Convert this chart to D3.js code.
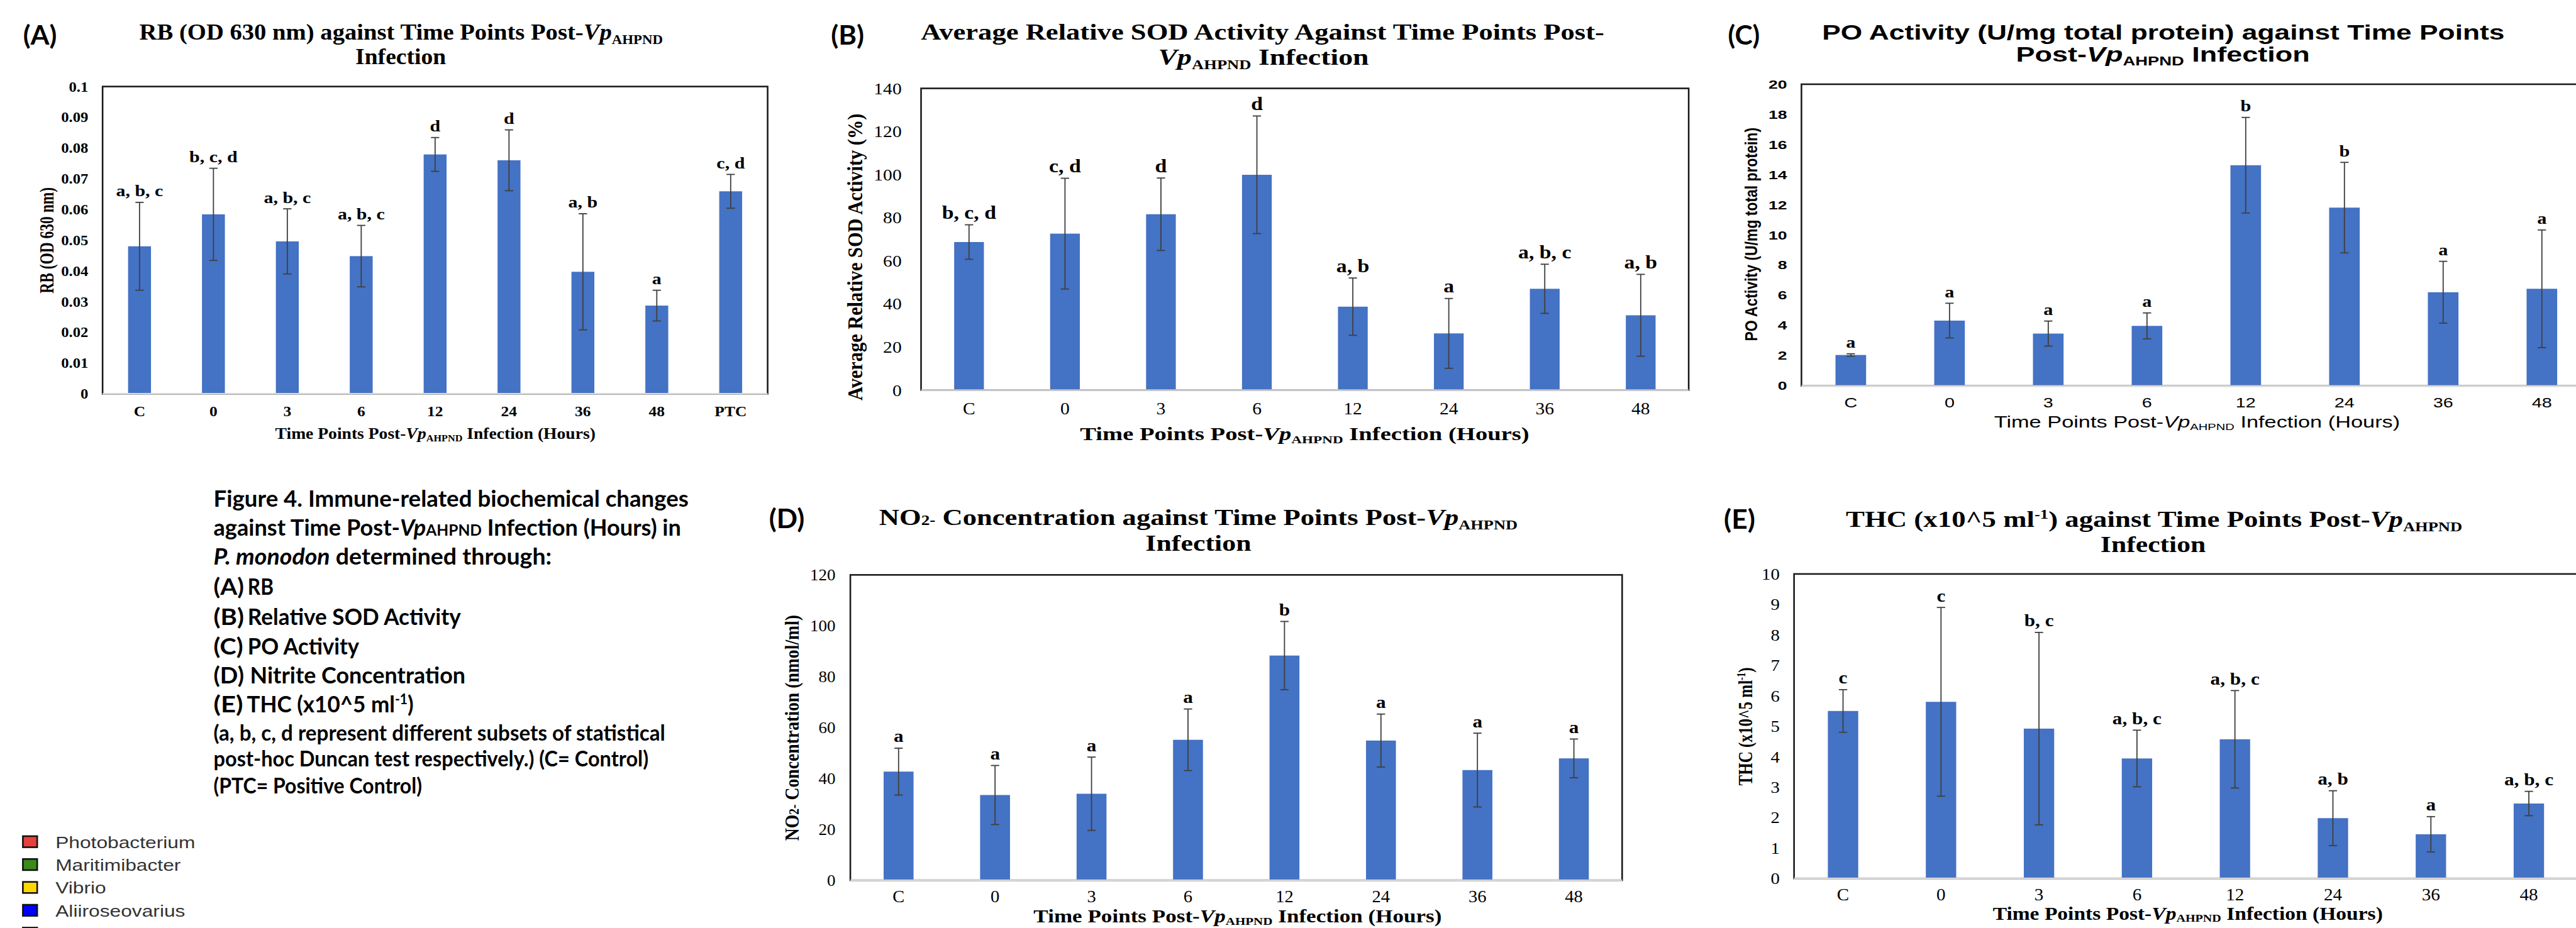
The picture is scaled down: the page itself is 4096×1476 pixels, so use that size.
<!DOCTYPE html>
<html>
<head>
<meta charset="utf-8">
<script src="https://cdn.jsdelivr.net/npm/d3@7"></script>
<style>
  body { margin: 0; background: #fff; overflow: hidden; }
  text { white-space: pre; }
</style>
</head>
<body>
<script>
// categories
var catsA = ["C", "0", "3", "6", "12", "24", "36", "48", "PTC"];
var cats = ["C", "0", "3", "6", "12", "24", "36", "48"];

// (A) RB
var rbMean = [0.0480, 0.0584, 0.0496, 0.0448, 0.0779, 0.0760, 0.0397, 0.0287, 0.0659];
var rbSd = [0.0143, 0.0150, 0.0106, 0.0100, 0.0055, 0.0099, 0.0189, 0.0050, 0.0055];
var rbGroup = ["a, b, c", "b, c, d", "a, b, c", "a, b, c", "d", "d", "a, b", "a", "c, d"];
var rbTicks = [0, 0.01, 0.02, 0.03, 0.04, 0.05, 0.06, 0.07, 0.08, 0.09, 0.1];

// (B) SOD
var sodMean = [68.7, 72.6, 81.6, 99.9, 38.7, 26.3, 47.0, 34.7];
var sodSd = [8.0, 25.7, 16.8, 27.3, 13.3, 16.2, 11.4, 19.0];
var sodGroup = ["b, c, d", "c, d", "d", "d", "a, b", "a", "a, b, c", "a, b"];
var sodTicks = [0, 20, 40, 60, 80, 100, 120, 140];

// (C) PO
var poMean = [2.05, 4.33, 3.47, 3.98, 14.63, 11.82, 6.21, 6.44];
var poSd = [0.08, 1.15, 0.83, 0.86, 3.17, 3.0, 2.05, 3.9];
var poGroup = ["a", "a", "a", "a", "b", "b", "a", "a"];
var poTicks = [0, 2, 4, 6, 8, 10, 12, 14, 16, 18, 20];

// (D) NO2-
var no2Mean = [42.7, 33.5, 34.0, 55.2, 88.3, 54.9, 43.3, 47.9];
var no2Sd = [9.2, 11.6, 14.4, 12.1, 13.4, 10.4, 14.5, 7.6];
var no2Group = ["a", "a", "a", "a", "b", "a", "a", "a"];
var no2Ticks = [0, 20, 40, 60, 80, 100, 120];

// (E) THC
var thcMean = [5.50, 5.80, 4.92, 3.94, 4.57, 1.98, 1.45, 2.46];
var thcSd = [0.70, 3.10, 3.16, 0.93, 1.60, 0.90, 0.58, 0.40];
var thcGroup = ["c", "c", "b, c", "a, b, c", "a, b, c", "a, b", "a", "a, b, c"];
var thcTicks = [0, 1, 2, 3, 4, 5, 6, 7, 8, 9, 10];

// legend (partly visible)
var legendNames = ["Photobacterium", "Maritimibacter", "Vibrio", "Aliiroseovarius"];
var legendColors = ["#e8403e", "#3a8a1c", "#ffd700", "#0000ff", "#8c8c8c"];

var SERIF = "'Liberation Serif','Times New Roman',serif";
var SANS = "'Liberation Sans',Arial,sans-serif";
var CAL = "Lato,'Open Sans',sans-serif";
var BAR = "#4472C4";

var W = 5574, H = 2008;
var svg = d3.select("body").append("svg")
  .attr("width", 4096)
  .attr("height", 1476)
  .attr("viewBox", `0 0 ${W} ${H}`);

svg.append("rect").attr("width", W).attr("height", H).attr("fill", "#fff");

// text with optional tspans, stretched horizontally to a target width
function addText(parent, x, y, parts, o) {
  var g = parent.append("g");
  var t = g.append("text")
    .attr("text-anchor", o.anchor || "middle")
    .attr("dy", o.dy || null)
    .style("font-family", o.font || SERIF)
    .style("font-weight", o.weight || "bold")
    .style("font-size", o.size + "px")
    .attr("fill", o.fill || "#000");
  parts.forEach(function(p) {
    var s = t.append("tspan").text(p.t);
    if (p.it) s.style("font-style", "italic");
    if (p.size) s.style("font-size", p.size + "px");
    if (p.dy) s.attr("dy", p.dy);
  });
  var k = o.k || 1;
  if (o.width) k = o.width / t.node().getBBox().width;
  g.attr("transform", `translate(${x},${y})` + (o.rot ? ` rotate(${o.rot})` : "") + ` scale(${k},${o.ky || 1})`);
  return g;
}

function drawPanel(o) {
  var x = d3.scaleBand().domain(o.cats).range([o.left, o.right])
    .paddingInner(0.69).paddingOuter(0.345);
  var y = d3.scaleLinear().domain([o.ticks[0], o.ticks[o.ticks.length - 1]])
    .range([o.bottom, o.top]);
  var g = svg.append("g");
  var rows = o.cats.map(function(c, i) {
    return { cat: c, mean: o.mean[i], sd: o.sd[i], grp: o.grp[i] };
  });

  g.selectAll("rect.bar")
    .data(rows)
    .enter()
    .append("rect")
    .attr("class", "bar")
    .attr("x", d => x(d.cat))
    .attr("y", d => y(d.mean))
    .attr("width", x.bandwidth())
    .attr("height", d => o.bottom - y(d.mean))
    .attr("fill", BAR);

  // plot frame
  g.append("rect")
    .attr("x", o.left).attr("y", o.top)
    .attr("width", o.right - o.left).attr("height", o.bottom - o.top)
    .attr("fill", "none").attr("stroke", "#1a1a1a").attr("stroke-width", 3.5);
  g.append("line")
    .attr("x1", o.left).attr("x2", o.right)
    .attr("y1", o.bottom).attr("y2", o.bottom)
    .attr("stroke", "#d9d9d9").attr("stroke-width", 3.5);

  // error bars
  var cx = d => x(d.cat) + x.bandwidth() / 2;
  var eb = g.selectAll("g.err").data(rows).enter().append("g")
    .attr("stroke", "#404040").attr("stroke-width", 2.5);
  eb.append("line").attr("x1", cx).attr("x2", cx)
    .attr("y1", d => y(d.mean + d.sd)).attr("y2", d => y(d.mean - d.sd));
  eb.append("line").attr("x1", d => cx(d) - 9).attr("x2", d => cx(d) + 9)
    .attr("y1", d => y(d.mean + d.sd)).attr("y2", d => y(d.mean + d.sd));
  eb.append("line").attr("x1", d => cx(d) - 9).attr("x2", d => cx(d) + 9)
    .attr("y1", d => y(d.mean - d.sd)).attr("y2", d => y(d.mean - d.sd));

  // group letters
  g.selectAll("text.grp")
    .data(rows)
    .enter()
    .append("text")
    .attr("class", "grp")
    .attr("text-anchor", "middle")
    .attr("transform", d => `translate(${cx(d)},${y(d.mean + d.sd) - 13}) scale(${o.letterK},1)`)
    .style("font-family", SERIF).style("font-weight", "bold")
    .style("font-size", o.letterSize + "px")
    .text(d => d.grp);

  // y axis
  var ya = g.append("g")
    .attr("transform", `translate(${o.yTickX},0)`)
    .call(d3.axisLeft(y).tickValues(o.ticks).tickSize(0).tickPadding(0).tickFormat(o.fmt));
  ya.select(".domain").remove();
  ya.selectAll("text")
    .attr("x", 0).attr("dy", "0.34em")
    .attr("text-anchor", "end")
    .attr("transform", `scale(${o.tickK},1)`)
    .attr("fill", "#000")
    .style("font-family", o.tickFont).style("font-weight", o.tickWeight)
    .style("font-size", o.tickSize + "px");

  // x axis
  var xa = g.append("g")
    .attr("transform", `translate(0,${o.xTickY})`)
    .call(d3.axisBottom(x).tickSize(0).tickPadding(0));
  xa.select(".domain").remove();
  xa.selectAll("text")
    .attr("y", 0).attr("dy", 0)
    .attr("transform", `scale(${o.xTickK},1)`)
    .attr("fill", "#000")
    .style("font-family", o.xTickFont).style("font-weight", o.xTickWeight)
    .style("font-size", o.xTickSize + "px");
}

// ---------- (A) ----------
drawPanel({
  cats: catsA, mean: rbMean, sd: rbSd, grp: rbGroup, ticks: rbTicks,
  fmt: d => String(+d.toFixed(2)),
  left: 222, right: 1661, top: 187, bottom: 852,
  yTickX: 191, tickFont: SERIF, tickWeight: "bold", tickSize: 30, tickK: 1.12,
  xTickY: 900, xTickFont: SERIF, xTickWeight: "bold", xTickSize: 31, xTickK: 1.12,
  letterSize: 34, letterK: 1.2
});
addText(svg, 50, 96, [{t: "(A)"}], {font: CAL, size: 58, anchor: "start", width: 73});
addText(svg, 868, 86, [{t: "RB (OD 630 nm) against Time Points Post-"}, {t: "Vp", it: true}, {t: "AHPND", size: 29, dy: 9}], {size: 49, width: 1133});
addText(svg, 867, 138, [{t: "Infection"}], {size: 49, width: 196});
addText(svg, 942, 949, [{t: "Time Points Post-"}, {t: "Vp", it: true}, {t: "AHPND", size: 20, dy: 6}, {t: " Infection (Hours)", dy: -6}], {size: 34, width: 693});
addText(svg, 101, 520, [{t: "RB (OD 630 nm)"}], {size: 32, width: 230, rot: -90, dy: "0.35em", ky: 1.3});

// ---------- (B) ----------
drawPanel({
  cats: cats, mean: sodMean, sd: sodSd, grp: sodGroup, ticks: sodTicks,
  fmt: d => String(d),
  left: 1993, right: 3654, top: 191, bottom: 844,
  yTickX: 1951, tickFont: SERIF, tickWeight: "normal", tickSize: 35, tickK: 1.15,
  xTickY: 897, xTickFont: SERIF, xTickWeight: "normal", xTickSize: 36, xTickK: 1.12,
  letterSize: 40, letterK: 1.15
});
addText(svg, 1798, 96, [{t: "(B)"}], {font: CAL, size: 58, anchor: "start", width: 72});
addText(svg, 2732, 86, [{t: "Average Relative SOD Activity Against Time Points Post-"}], {size: 50, width: 1479});
addText(svg, 2734, 140, [{t: "Vp", it: true}, {t: "AHPND", size: 29, dy: 9}, {t: " Infection", dy: -9}], {size: 50, width: 456});
addText(svg, 2823, 952, [{t: "Time Points Post-"}, {t: "Vp", it: true}, {t: "AHPND", size: 24, dy: 7}, {t: " Infection (Hours)", dy: -7}], {size: 40, width: 972});
addText(svg, 1849, 556, [{t: "Average Relative SOD Activity (%)"}], {size: 36, width: 621, rot: -90, dy: "0.35em", ky: 1.3});

// ---------- (C) ----------
drawPanel({
  cats: cats, mean: poMean, sd: poSd, grp: poGroup, ticks: poTicks,
  fmt: d => String(d),
  left: 3898, right: 5607, top: 182, bottom: 835,
  yTickX: 3867, tickFont: SANS, tickWeight: "bold", tickSize: 25, tickK: 1.45,
  xTickY: 881, xTickFont: SANS, xTickWeight: "normal", xTickSize: 29, xTickK: 1.35,
  letterSize: 33, letterK: 1.25
});
addText(svg, 3739, 96, [{t: "(C)"}], {font: CAL, size: 58, anchor: "start", width: 69});
addText(svg, 4681, 86, [{t: "PO Activity (U/mg total protein) against Time Points"}], {font: SANS, size: 46, width: 1477});
addText(svg, 4680, 133, [{t: "Post-"}, {t: "Vp", it: true}, {t: "AHPND", size: 28, dy: 8}, {t: " Infection", dy: -8}], {font: SANS, size: 46, width: 636});
addText(svg, 4754, 925, [{t: "Time Points Post-"}, {t: "Vp", it: true}, {t: "AHPND", size: 20, dy: 6}, {t: " Infection (Hours)", dy: -6}], {font: SANS, weight: "normal", size: 34, width: 878});
addText(svg, 3789, 507, [{t: "PO Activity (U/mg total protein)"}], {font: SANS, size: 31, width: 462, rot: -90, dy: "0.35em", ky: 1.2});

// ---------- (D) ----------
drawPanel({
  cats: cats, mean: no2Mean, sd: no2Sd, grp: no2Group, ticks: no2Ticks,
  fmt: d => String(d),
  left: 1840, right: 3510, top: 1244, bottom: 1905,
  yTickX: 1808, tickFont: SERIF, tickWeight: "normal", tickSize: 35, tickK: 1.05,
  xTickY: 1953, xTickFont: SERIF, xTickWeight: "normal", xTickSize: 36, xTickK: 1.08,
  letterSize: 38, letterK: 1.12
});
addText(svg, 1664, 1143, [{t: "(D)"}], {font: CAL, size: 56, anchor: "start", width: 77});
addText(svg, 2593, 1136, [{t: "NO"}, {t: "2-", size: 30}, {t: " Concentration against Time Points Post-"}, {t: "Vp", it: true}, {t: "AHPND", size: 29, dy: 9}], {size: 49, width: 1382});
addText(svg, 2593, 1192, [{t: "Infection"}], {size: 49, width: 229});
addText(svg, 2678, 1996, [{t: "Time Points Post-"}, {t: "Vp", it: true}, {t: "AHPND", size: 24, dy: 5}, {t: " Infection (Hours)", dy: -5}], {size: 40, width: 883});
addText(svg, 1713, 1575, [{t: "NO"}, {t: "2-", size: 24}, {t: " Concentration (nmol/ml)"}], {size: 34, width: 489, rot: -90, dy: "0.35em", ky: 1.3});

// ---------- (E) ----------
drawPanel({
  cats: cats, mean: thcMean, sd: thcSd, grp: thcGroup, ticks: thcTicks,
  fmt: d => String(d),
  left: 3882, right: 5578, top: 1242, bottom: 1901,
  yTickX: 3851, tickFont: SERIF, tickWeight: "normal", tickSize: 35, tickK: 1.12,
  xTickY: 1949, xTickFont: SERIF, xTickWeight: "normal", xTickSize: 36, xTickK: 1.1,
  letterSize: 38, letterK: 1.12
});
addText(svg, 3730, 1144, [{t: "(E)"}], {font: CAL, size: 58, anchor: "start", width: 68});
addText(svg, 4661, 1140, [{t: "THC (x10^5 ml"}, {t: "-1", size: 29, dy: -18}, {t: ") against Time Points Post-", dy: 18}, {t: "Vp", it: true}, {t: "AHPND", size: 29, dy: 9}], {size: 49, width: 1334});
addText(svg, 4659, 1194, [{t: "Infection"}], {size: 49, width: 228});
addText(svg, 4734, 1990, [{t: "Time Points Post-"}, {t: "Vp", it: true}, {t: "AHPND", size: 24, dy: 5}, {t: " Infection (Hours)", dy: -5}], {size: 40, width: 844});
addText(svg, 3776, 1572, [{t: "THC (x10^5 ml"}, {t: "-1", size: 20, dy: -12}, {t: ")", dy: 12}], {size: 34, width: 256, rot: -90, dy: "0.35em", ky: 1.3});

// ---------- caption ----------
var cap = svg.append("g");
var cx0 = 462;
addText(cap, cx0, 1096, [{t: "Figure 4. Immune-related biochemical changes"}], {font: CAL, size: 50, anchor: "start", width: 1028});
addText(cap, cx0, 1159, [{t: "against Time Post-"}, {t: "Vp", it: true}, {t: "AHPND", size: 34}, {t: " Infection (Hours) in"}], {font: CAL, size: 50, anchor: "start", width: 1012});
addText(cap, cx0, 1222, [{t: "P. monodon", it: true}, {t: " determined through:"}], {font: CAL, size: 50, anchor: "start", width: 732});
var listLab = ["(A)", "(B)", "(C)", "(D)", "(E)"];
var listY = [1287, 1352, 1416, 1479, 1541];
addText(cap, cx0, listY[0], [{t: listLab[0]}], {font: CAL, size: 50, anchor: "start", width: 66});
addText(cap, 536, listY[0], [{t: "RB"}], {font: CAL, size: 50, anchor: "start", width: 56});
addText(cap, cx0, listY[1], [{t: listLab[1]}], {font: CAL, size: 50, anchor: "start", width: 66});
addText(cap, 536, listY[1], [{t: "Relative SOD Activity"}], {font: CAL, size: 50, anchor: "start", width: 462});
addText(cap, cx0, listY[2], [{t: listLab[2]}], {font: CAL, size: 50, anchor: "start", width: 64});
addText(cap, 536, listY[2], [{t: "PO Activity"}], {font: CAL, size: 50, anchor: "start", width: 242});
addText(cap, cx0, listY[3], [{t: listLab[3]}], {font: CAL, size: 50, anchor: "start", width: 66});
addText(cap, 541, listY[3], [{t: "Nitrite Concentration"}], {font: CAL, size: 50, anchor: "start", width: 466});
addText(cap, cx0, listY[4], [{t: listLab[4]}], {font: CAL, size: 50, anchor: "start", width: 64});
addText(cap, 534, listY[4], [{t: "THC (x10^5 ml"}, {t: "-1", size: 30, dy: -17}, {t: ")", dy: 17}], {font: CAL, size: 50, anchor: "start", width: 361});
addText(cap, cx0, 1603, [{t: "(a, b, c, d represent different subsets of statistical"}], {font: CAL, size: 47, anchor: "start", width: 977});
addText(cap, cx0, 1659, [{t: "post-hoc Duncan test respectively.) (C= Control)"}], {font: CAL, size: 47, anchor: "start", width: 941});
addText(cap, cx0, 1717, [{t: "(PTC= Positive Control)"}], {font: CAL, size: 47, anchor: "start", width: 451});

// ---------- legend fragment ----------
var lg = svg.append("g");
var legY = d3.scaleLinear().domain([0, 1]).range([1808, 1857.5]);
lg.selectAll("rect")
  .data(legendColors)
  .enter()
  .append("rect")
  .attr("x", 49.5).attr("y", (d, i) => legY(i) + 1.5)
  .attr("width", 31).attr("height", 24)
  .attr("fill", d => d)
  .attr("stroke", "#111").attr("stroke-width", 3.5);
legendNames.forEach(function(n, i) {
  addText(lg, 120, legY(i) + 27, [{t: n}], {font: SANS, weight: "normal", size: 34, anchor: "start", k: 1.27, fill: "#333"});
});
</script>
</body>
</html>
